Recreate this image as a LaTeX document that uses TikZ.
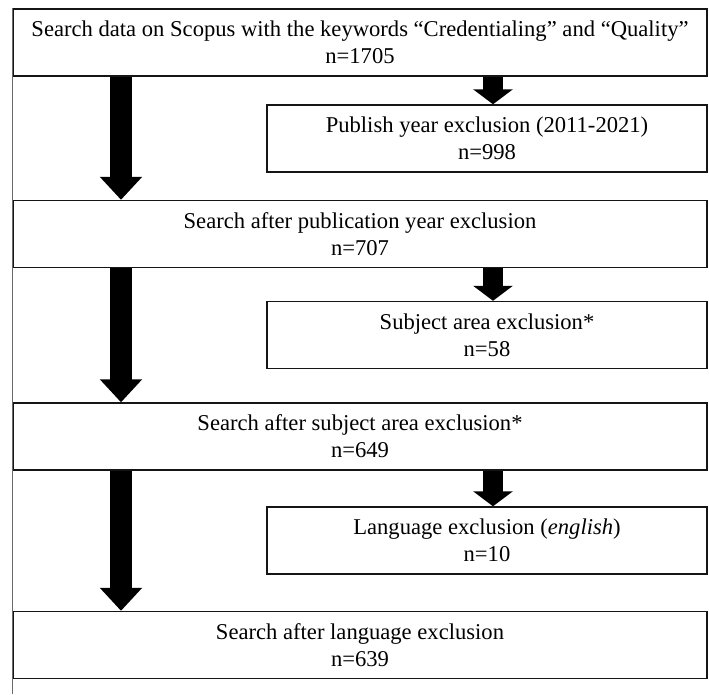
\documentclass[tikz,border=0pt]{standalone}
\usepackage{fontspec}
\setmainfont{Liberation Serif}
\definecolor{boxline}{HTML}{151515}
\definecolor{rulegray}{HTML}{6A6A6A}
\usepackage{tikz}
\usetikzlibrary{arrows.meta, calc}
\tikzset{
	box/.style = {draw = boxline, line width = 1.4pt, minimum height = 67pt, inner sep = 0pt, align = center, font = \fontsize{22.6}{27}\selectfont},
	mainbox/.style = {box, minimum width = 694pt},
	exclbox/.style = {box, minimum width = 440pt},
	bigarrow/.style = {-{Triangle[length = 23pt, width = 41pt]}, line width = 22pt},
	smallarrow/.style = {-{Triangle[length = 15pt, width = 39pt]}, line width = 20pt}
}

\begin{document}
\begin{tikzpicture}[x = 1pt, y = -1pt]
	\useasboundingbox (0, 0) rectangle (709, 694);
	\node[mainbox] at (360, 42.5) (n1705) {Search data on Scopus with the keywords “Credentialing” and “Quality”\\n=1705};
	\node[exclbox] at (487, 138.5) (n998) {Publish year exclusion (2011-2021)\\n=998};
	\node[mainbox] at (360, 234) (n707) {Search after publication year exclusion\\n=707};
	\node[exclbox] at (487, 335) (n58) {Subject area exclusion*\\n=58};
	\node[mainbox] at (360, 436.5) (n649) {Search after subject area exclusion*\\n=649};
	\node[exclbox] at (487, 540.5) (n10) {Language exclusion (\textit{english})\\n=10};
	\node[mainbox] at (360, 645) (n639) {Search after language exclusion\\n=639};
	% thin rule on the left
	\draw[color = rulegray, line width = 0.8pt] (n1705.north west) -- (n1705.north west |- 0, 694);
	% main flow
	\draw[bigarrow] ([xshift = -239pt]n1705.south) -- ([xshift = -239pt]n707.north);
	\draw[bigarrow] ([xshift = -239pt]n707.south) -- ([xshift = -239pt]n649.north);
	\draw[bigarrow] ([xshift = -239pt]n649.south) -- ([xshift = -239pt]n639.north);
	% exclusions
	\draw[smallarrow] ([xshift = 6pt]n998.north |- n1705.south) -- ([xshift = 6pt]n998.north);
	\draw[smallarrow] ([xshift = 6pt]n58.north |- n707.south) -- ([xshift = 6pt]n58.north);
	\draw[smallarrow] ([xshift = 6pt]n10.north |- n649.south) -- ([xshift = 6pt]n10.north);
\end{tikzpicture}
\end{document}
